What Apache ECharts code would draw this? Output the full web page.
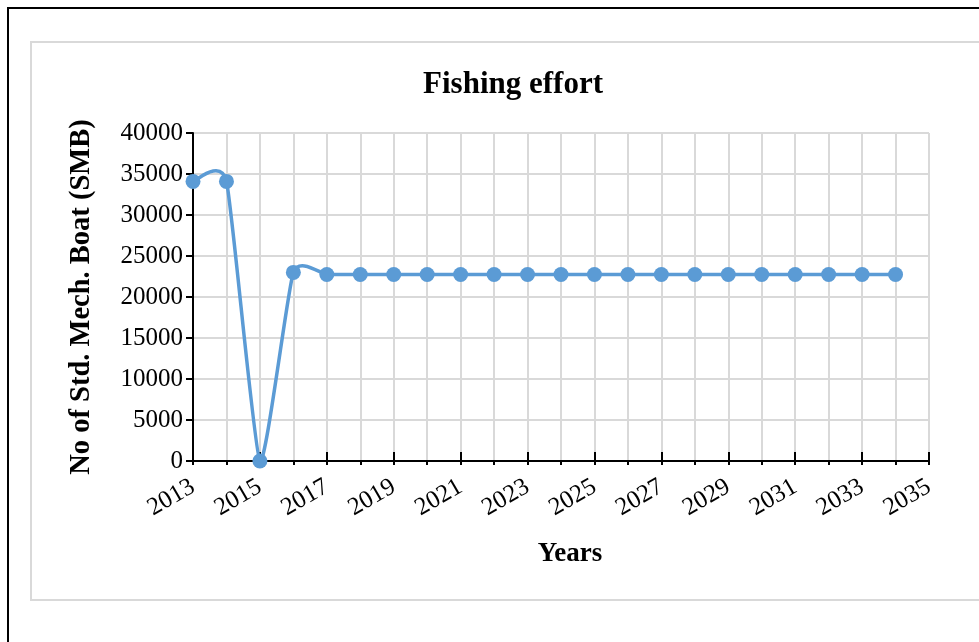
<!DOCTYPE html>
<html>
<head>
<meta charset="utf-8">
<script src="https://cdn.jsdelivr.net/npm/echarts@6/dist/echarts.min.js"></script>
<style>
  html, body { margin: 0; padding: 0; background: #fff; }
  #chart { width: 979px; height: 642px; }
</style>
</head>
<body>
<div id="chart"></div>
<script>
// Axis categories (one per year; the last one has no observation)
const years = ['2013','2014','2015','2016','2017','2018','2019','2020','2021','2022','2023',
               '2024','2025','2026','2027','2028','2029','2030','2031','2032','2033','2034','2035'];
// Standardised mechanised boats per year
const effort = [34100, 34100, 0, 23000, 22750, 22750, 22750, 22750, 22750, 22750, 22750,
                22750, 22750, 22750, 22750, 22750, 22750, 22750, 22750, 22750, 22750, 22750, null];
// Value-axis settings
const yMin = 0, yMax = 40000, yStep = 5000;

const serif = '"Liberation Serif", "Times New Roman", serif';
const grid = '#d9d9d9';
const blue = '#5b9bd5';

// indices that carry an observation
const observed = effort.map((v, i) => [i, v]).filter(d => d[1] != null);
const lastIdx = observed[observed.length - 1][0];

// Smoothed segment i -> i+1 as a cubic Bezier (Catmull-Rom style tangents)
const tension = 0.085;
function renderSegment(params, api) {
  const i = api.value(0);
  if (i >= lastIdx) return null;
  const pt = j => {
    const k = Math.max(0, Math.min(lastIdx, j));
    return api.coord([k, effort[k]]);
  };
  const p0 = pt(i - 1), p1 = pt(i), p2 = pt(i + 1), p3 = pt(i + 2);
  return {
    type: 'bezierCurve',
    shape: {
      x1: p1[0], y1: p1[1],
      cpx1: p1[0] + (p2[0] - p0[0]) * tension, cpy1: p1[1] + (p2[1] - p0[1]) * tension,
      cpx2: p2[0] - (p3[0] - p1[0]) * tension, cpy2: p2[1] - (p3[1] - p1[1]) * tension,
      x2: p2[0], y2: p2[1]
    },
    style: { fill: null, stroke: blue, lineWidth: 3.5, lineCap: 'round' }
  };
}

const chart = echarts.init(document.getElementById('chart'), null, { renderer: 'canvas' });
chart.setOption({
  animation: false,
  backgroundColor: '#fff',
  graphic: [
    { type: 'rect', shape: { x: 8, y: 8, width: 1000, height: 700 },
      style: { fill: 'none', stroke: '#000', lineWidth: 2 }, silent: true, z: -10 },
    { type: 'rect', shape: { x: 31, y: 42, width: 1000, height: 558 },
      style: { fill: 'none', stroke: grid, lineWidth: 2 }, silent: true, z: -10 }
  ],
  title: {
    text: 'Fishing effort',
    left: 508, top: 64, textAlign: 'center',
    textStyle: { fontFamily: serif, fontWeight: 'bold', fontSize: 31, color: '#000' }
  },
  grid: { left: 193, right: 50, top: 133, bottom: 181 },
  xAxis: [{
    type: 'category',
    data: years,
    boundaryGap: false,
    name: 'Years',
    nameLocation: 'middle',
    nameGap: 80,
    nameTextStyle: { fontFamily: serif, fontWeight: 'bold', fontSize: 27, color: '#000', padding: [0, 0, 0, 18] },
    axisLine: { lineStyle: { color: '#000', width: 2 } },
    axisTick: { interval: 0, length: 4, lineStyle: { color: '#000', width: 2 } },
    axisLabel: { interval: 1, rotate: 30, margin: 24, fontFamily: serif, fontSize: 25, color: '#000' },
    splitLine: { show: true, interval: 0, lineStyle: { color: grid, width: 2 } }
  }, {
    type: 'category',
    data: years,
    boundaryGap: false,
    position: 'bottom',
    axisLine: { show: false },
    axisTick: { interval: 1, inside: true, length: 9, lineStyle: { color: '#000', width: 2 } },
    axisLabel: { show: false },
    splitLine: { show: false }
  }],
  yAxis: {
    type: 'value',
    min: yMin, max: yMax, interval: yStep,
    name: 'No of Std. Mech. Boat (SMB)',
    nameLocation: 'middle',
    nameGap: 97,
    nameTextStyle: { fontFamily: serif, fontWeight: 'bold', fontSize: 28.5, color: '#000' },
    axisLine: { show: true, lineStyle: { color: '#000', width: 2 } },
    axisTick: { show: true, length: 7, lineStyle: { color: '#000', width: 2 } },
    axisLabel: { margin: 10, fontFamily: serif, fontSize: 25, color: '#000', formatter: v => String(v) },
    splitLine: { show: true, lineStyle: { color: grid, width: 2 } }
  },
  series: [{
    type: 'custom',
    data: observed,
    encode: { x: 0, y: 1 },
    renderItem: renderSegment,
    clip: false,
    z: 4
  }, {
    type: 'scatter',
    data: observed,
    symbol: 'circle',
    symbolSize: 15,
    itemStyle: { color: blue, opacity: 1 },
    z: 5
  }]
});
</script>
</body>
</html>
